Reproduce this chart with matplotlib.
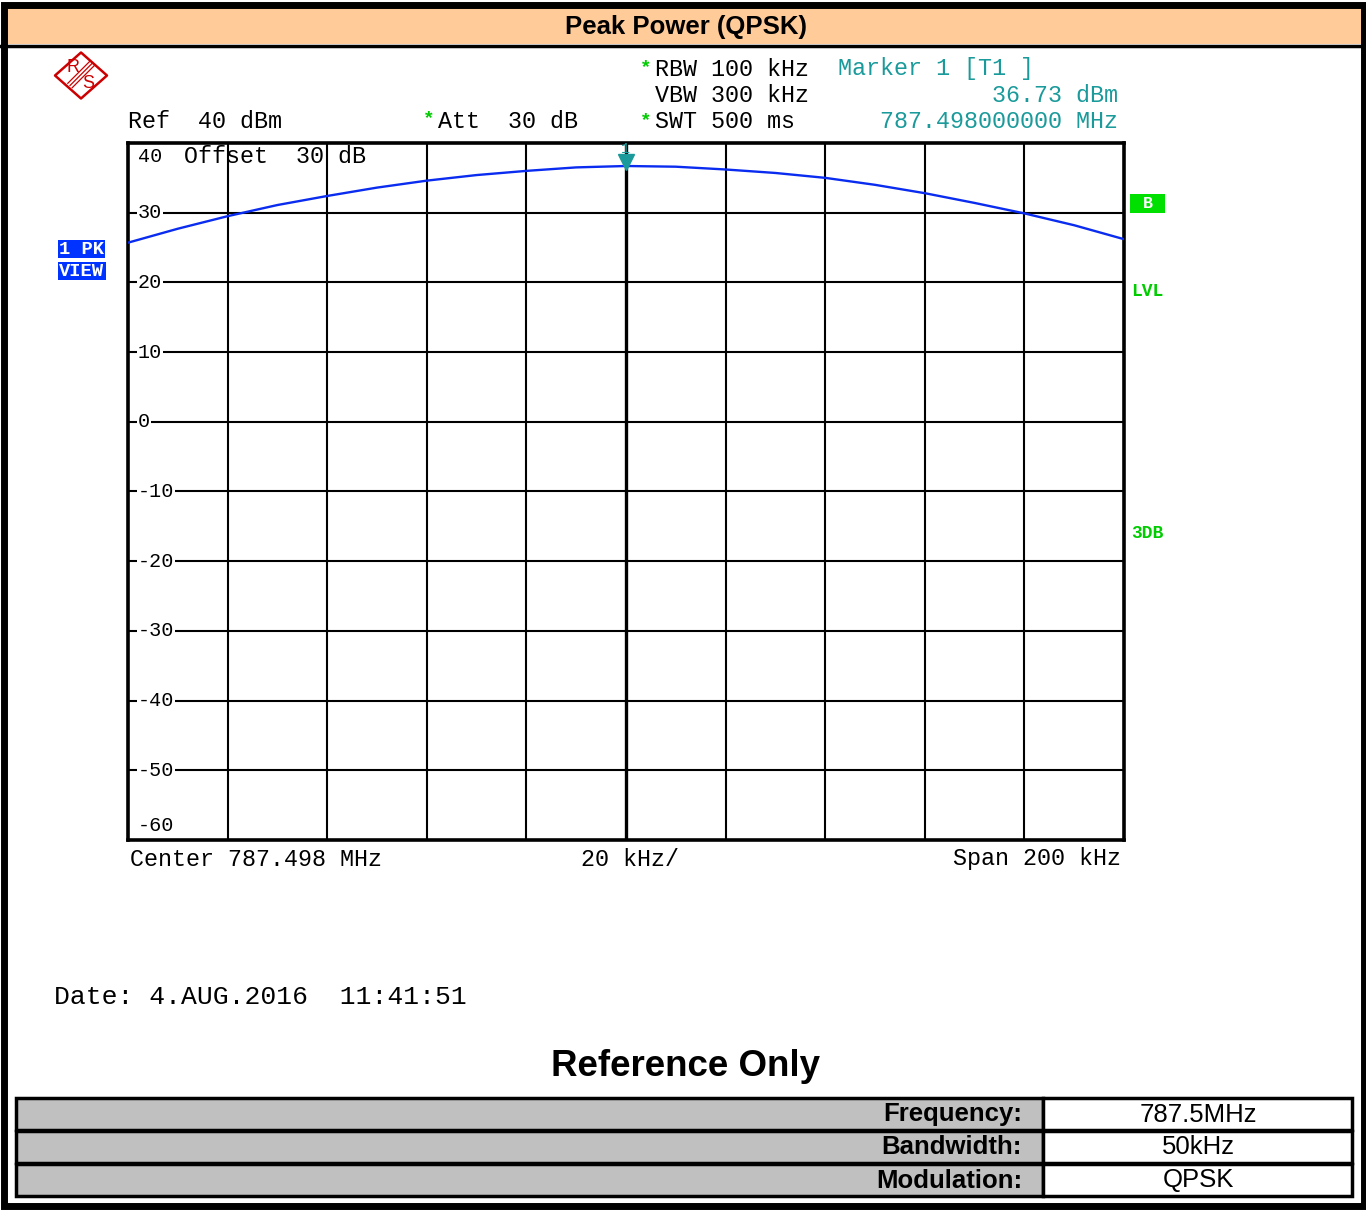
import matplotlib
matplotlib.use("Agg")
import matplotlib.pyplot as plt
from matplotlib.patches import Rectangle, Polygon

# ---------------- data ----------------
freq_offset_khz = [-100, -90, -80, -70, -60, -50, -40, -30, -20, -10, 0,
                   10, 20, 30, 40, 50, 60, 70, 80, 90, 100]
power_dbm = [25.7, 27.7, 29.5, 31.1, 32.4, 33.6, 34.6, 35.4, 36.0, 36.5, 36.7,
             36.6, 36.2, 35.7, 35.0, 34.0, 32.8, 31.4, 29.9, 28.2, 26.2]
marker_khz = 0
marker_dbm = 36.73
x_grid = [-100, -80, -60, -40, -20, 0, 20, 40, 60, 80, 100]
y_grid = [40, 30, 20, 10, 0, -10, -20, -30, -40, -50, -60]
y_labels = ["40", "30", "20", "10", "0", "-10", "-20", "-30", "-40", "-50", "-60"]
title = "Peak Power (QPSK)"
table_labels = ["Frequency:", "Bandwidth:", "Modulation:"]
table_values = ["787.5MHz", "50kHz", "QPSK"]

W, H = 1366, 1211
fig = plt.figure(figsize=(W / 100, H / 100), dpi=100)
fig.patch.set_facecolor("white")

MONO = "Liberation Mono"
SANS = "Liberation Sans"
TEAL = "#1a9a9a"
GREEN = "#00cc00"

# overlay axes in pixel coords
ov = fig.add_axes([0, 0, 1, 1], zorder=0)
ov.set_xlim(0, W)
ov.set_ylim(H, 0)
ov.axis("off")

# outer border and title bar
ov.add_patch(Rectangle((7, 8), 1355, 36, facecolor="#ffcc99", edgecolor="none"))
ov.plot([0, 1366], [45.5, 45.5], color="black", lw=2.5)
ov.add_patch(Rectangle((3.5, 5), 1360, 1201, facecolor="none", edgecolor="black", lw=5))
ov.text(686, 27, title, ha="center", va="center", fontsize=18.5,
        fontweight="bold", family=SANS)

# R&S logo
cx, cy = 81, 75.5
ov.add_patch(Polygon([(cx, cy - 23), (cx + 26, cy), (cx, cy + 23), (cx - 26, cy)],
                     closed=True, facecolor="none", edgecolor="#cc0000", lw=1.8,
                     joinstyle="round"))
for d in (-2.2, 0, 2.2):
    ov.plot([cx + 11 + d, cx - 11 + d], [cy - 12 + d, cy + 10 + d], color="#cc0000", lw=0.9)
ov.text(cx - 8, cy - 8, "R", color="#cc0000", fontsize=13, ha="center", va="center", family=SANS)
ov.text(cx + 7, cy + 8, "S", color="#cc0000", fontsize=13, ha="center", va="center", family=SANS)

# header texts
fs = 16.8
ov.text(128, 122, "Ref  40 dBm", family=MONO, fontsize=fs, va="center", ha="left")
ov.text(423, 119, "*", family=MONO, fontsize=14, fontweight="bold", color=GREEN, va="center", ha="left")
ov.text(438, 122, "Att  30 dB", family=MONO, fontsize=fs, va="center", ha="left")
ov.text(640, 68, "*", family=MONO, fontsize=14, fontweight="bold", color=GREEN, va="center", ha="left")
ov.text(640, 121, "*", family=MONO, fontsize=14, fontweight="bold", color=GREEN, va="center", ha="left")
ov.text(655, 69, "RBW 100 kHz", family=MONO, fontsize=fs, va="center", ha="left")
ov.text(655, 95, "VBW 300 kHz", family=MONO, fontsize=fs, va="center", ha="left")
ov.text(655, 122, "SWT 500 ms", family=MONO, fontsize=fs, va="center", ha="left")
ov.text(838, 69, "Marker 1 [T1 ]", family=MONO, fontsize=fs, va="center", ha="left", color=TEAL)
ov.text(1118, 95, "36.73 dBm", family=MONO, fontsize=fs, va="center", ha="right", color=TEAL)
ov.text(1118, 122, "787.498000000 MHz", family=MONO, fontsize=fs, va="center", ha="right", color=TEAL)

# left badges
ov.add_patch(Rectangle((58, 240), 47, 18, facecolor="#0033ff", edgecolor="none"))
ov.add_patch(Rectangle((58, 262), 48, 18, facecolor="#0033ff", edgecolor="none"))
ov.text(59, 249.5, "1 PK", family=MONO, fontsize=13.5, fontweight="bold", color="white",
        va="center", ha="left")
ov.text(59, 271.5, "VIEW", family=MONO, fontsize=13.5, fontweight="bold", color="white",
        va="center", ha="left")

# right badges
ov.add_patch(Rectangle((1130, 194), 35, 19, facecolor="#00e000", edgecolor="none"))
ov.text(1148, 204, "B", family=MONO, fontsize=12, fontweight="bold", color="white",
        va="center", ha="center")
ov.text(1131, 292, "LVL", family=MONO, fontsize=13, fontweight="bold", color=GREEN,
        va="center", ha="left")
ov.text(1131, 534, "3DB", family=MONO, fontsize=13, fontweight="bold", color=GREEN,
        va="center", ha="left")

# bottom axis texts
ov.text(130, 859, "Center 787.498 MHz", family=MONO, fontsize=fs, va="center", ha="left")
ov.text(581, 859, "20 kHz/", family=MONO, fontsize=fs, va="center", ha="left")
ov.text(1121, 859, "Span 200 kHz", family=MONO, fontsize=fs, va="center", ha="right")

ov.text(54, 997, "Date: 4.AUG.2016  11:41:51", family=MONO, fontsize=19, va="center", ha="left")
ov.text(686, 1067, "Reference Only", family=SANS, fontsize=26.5, fontweight="bold",
        va="center", ha="center")

# table
row_tops = [1098, 1131, 1164]
for i, (lab, val) in enumerate(zip(table_labels, table_values)):
    top = row_tops[i]
    ov.add_patch(Rectangle((16, top), 1027, 32, facecolor="#c0c0c0", edgecolor="black", lw=2.5))
    ov.add_patch(Rectangle((1043, top), 309, 32, facecolor="white", edgecolor="black", lw=2.5))
    ov.text(1022, top + 16.5, lab, family=SANS, fontsize=18.5, fontweight="bold",
            va="center", ha="right")
    ov.text(1198, top + 16.5, val, family=SANS, fontsize=18.5, va="center", ha="center")

# ---------------- main plot ----------------
L, R, T, B = 128, 1124, 143, 840
ax = fig.add_axes([L / W, (H - B) / H, (R - L) / W, (B - T) / H], zorder=2)
ax.set_facecolor("white")
ax.set_xlim(-100, 100)
ax.set_ylim(-60, 40)
for s in ax.spines.values():
    s.set_linewidth(2.6)
    s.set_color("black")
ax.set_xticks([])
ax.set_yticks([])
for xv in x_grid[1:-1]:
    ax.axvline(xv, color="black", lw=2.4 if xv == 0 else 1.5, zorder=1)
for yv in y_grid[1:-1]:
    ax.axhline(yv, color="black", lw=1.5, zorder=1)

# y labels inside the plot
for yv, lab in zip(y_grid, y_labels):
    ypos = yv
    if yv == 40:
        ypos = 38.0
    elif yv == -60:
        ypos = -57.9
    ax.text(-98.0, ypos, lab, family=MONO, fontsize=14.5, va="center", ha="left",
            bbox=dict(facecolor="white", edgecolor="none", pad=0.5), zorder=3)
ax.text(-88.8, 38.0, "Offset  30 dB", family=MONO, fontsize=fs, va="center", ha="left", zorder=3)

# trace
ax.plot(freq_offset_khz, power_dbm, color="#0a2cf0", lw=1.7, zorder=4)

# marker
ax.plot([marker_khz], [marker_dbm + 0.6], marker="v", markersize=11, color=TEAL,
        markeredgecolor=TEAL, zorder=5, clip_on=False)
ax.text(marker_khz, 39.2, "1", family=MONO, fontsize=11, color=TEAL, ha="center",
        va="center", zorder=5)

fig.savefig("out.png", dpi=100, facecolor="white")
